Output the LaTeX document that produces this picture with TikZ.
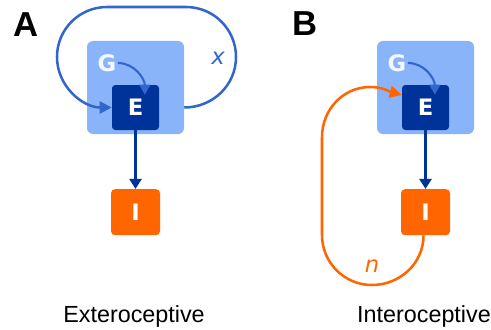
\documentclass[tikz,border=0pt]{standalone}
\usepackage{fontspec}
\setmainfont{Liberation Sans}
\newfontfamily\dejavu{DejaVu Sans}
\usetikzlibrary{positioning}
\usetikzlibrary{arrows.meta}

\definecolor{lightblue}{RGB}{138,180,250}
\definecolor{darkblue}{RGB}{0,51,153}
\definecolor{loopblue}{RGB}{51,102,204}
\definecolor{sigorange}{RGB}{255,102,0}

\tikzset{
  gbox/.style={fill=lightblue,rounded corners=4.5pt,minimum width=72.75pt,minimum height=69.75pt,inner sep=0pt},
  ebox/.style={fill=darkblue,rounded corners=2.5pt,minimum width=35.25pt,minimum height=33.75pt,inner sep=0pt,text=white,font=\dejavu\bfseries\fontsize{17}{17}\selectfont},
  ibox/.style={fill=sigorange,rounded corners=3pt,minimum width=36.75pt,minimum height=34.5pt,inner sep=0pt,text=white,font=\dejavu\bfseries\fontsize{17}{17}\selectfont},
  gtext/.style={text=white!90!lightblue,inner sep=1pt,font=\dejavu\bfseries\fontsize{17}{17}\selectfont},
  panel/.style={font=\bfseries\fontsize{26}{26}\selectfont},
  caption/.style={anchor=base,font=\fontsize{17.5}{17.5}\selectfont},
  looplabel/.style={font=\dejavu\itshape\fontsize{17}{17}\selectfont},
  loopline/.style={line width=1.9pt,-{Triangle[length=9pt,width=9pt]}},
  goarrow/.style={loopblue,line width=1.6pt,-{Triangle[length=7.5pt,width=8pt]}},
  eiarrow/.style={darkblue,line width=2pt,-{Triangle[length=7.5pt,width=9pt]}},
}

\begin{document}
\begin{tikzpicture}[x=0.75pt,y=0.75pt]
\useasboundingbox (0,0) rectangle (491,329);

% panel A
\node[panel] (labA) at (26,304) {A};
\node[gbox] (gA) at (135.5,241.5) {};
\node[ebox] (eA) at (135.5,221.5) {E};
\node[ibox,below=44pt of eA] (iA) {I};
\node[gtext] (gtA) at (107,266) {G};
\draw[goarrow] (gtA.east) to[out=0,in=90] ([xshift=7pt,yshift=-7.5pt]eA.north);
\draw[eiarrow] (eA) -- (iA);
\draw[loopline,loopblue] (gA.east |- eA.west) to[out=0,in=-90] (236,272) to[out=90,in=0] (186,322)
  -- (107,322) to[out=180,in=90] (57,272) to[out=-90,in=180] (eA.west);
\node[looplabel,text=loopblue] (xA) at (218,271) {x};
\node[caption] (capA) at (134,7) {Exteroceptive};

% panel B
\node[panel] (labB) at (305,305) {B};
\node[gbox] (gB) at (425.5,241.5) {};
\node[ebox] (eB) at (425.5,221.5) {E};
\node[ibox,below=44pt of eB] (iB) {I};
\node[gtext] (gtB) at (397,266) {G};
\draw[goarrow] (gtB.east) to[out=0,in=90] ([xshift=7pt,yshift=-7.5pt]eB.north);
\draw[eiarrow] (eB) -- (iB);
\draw[loopline,sigorange] ([xshift=-1.5pt]iB.south) to[out=-90,in=0] (372,44) to[out=180,in=-90] (322,94)
  -- (322,192) to[out=90,in=180] (370,242) to[out=0,in=165] ([yshift=9.4pt]eB.west);
\node[looplabel,text=sigorange] (nB) at (372,63) {n};
\node[caption] (capB) at (424,7) {Interoceptive};

\end{tikzpicture}
\end{document}
